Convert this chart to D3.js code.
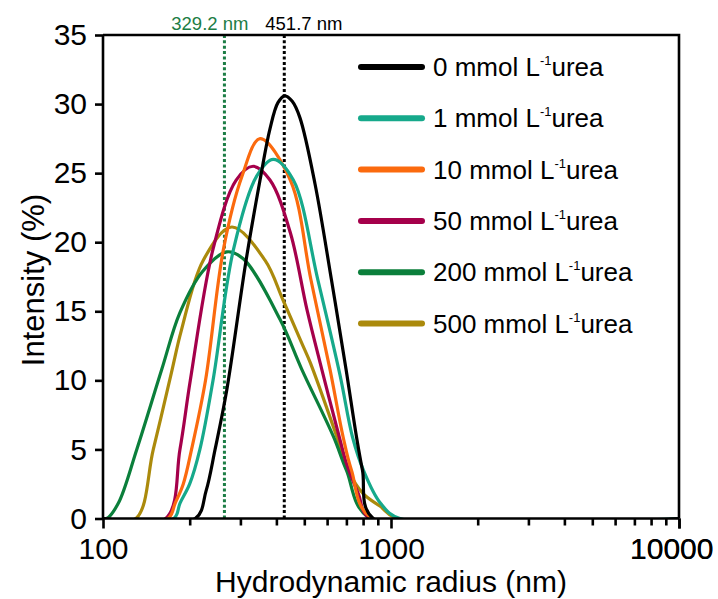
<!DOCTYPE html>
<html lang="en">
<head>
<meta charset="UTF-8">
<title>DLS size distribution</title>
<script src="https://d3js.org/d3.v7.min.js"></script>
<style>
  body { margin: 0; background: #ffffff; }
  svg { display: block; font-family: "Liberation Sans", Arial, sans-serif; }
  .axis path, .axis line { stroke: #000; stroke-width: 2.6; }
  .axis text { font-size: 30px; fill: #000; }
</style>
</head>
<body>
<svg id="chart" width="718" height="599"></svg>
<script>
// --- data: [hydrodynamic radius (nm), intensity (%)] ---
const urea0 = [[100,0],[209,0],[228,2],[245,5],[269,9.3],[314,18.7],[351,24.5],[380,28.2],[405,30.1],[428,30.6],[454,30.2],[483,29.0],[545,24.2],[621,17.3],[698,10.8],[759,5.9],[796,3.5],[868,0],[10000,0]];
const urea1 = [[100,0],[176,0],[185,1.1],[200,2.5],[217,5],[241,10],[284,19.5],[342,24.8],[390,26.0],[458,24.5],[557,17.3],[665,10.4],[735,5.9],[802,3.5],[920,1.1],[1074,0],[10000,0]];
const urea10 = [[100,0],[168,0],[178,1.1],[190,2.5],[203,5],[227,10],[262,19.5],[303,24.7],[351,27.5],[447,24.5],[527,17.3],[614,10.8],[682,5.9],[729,3.5],[858,0],[10000,0]];
const urea50 = [[100,0],[165,0],[185,5],[201,10],[241,19.5],[290,24.5],[332,25.5],[380,24.5],[447,20.7],[511,15.1],[575,10.8],[665,5.7],[700,4.0],[770,1.8],[845,0],[10000,0]];
const urea200 = [[100,0],[103,0],[113,1.1],[131,5],[160,10.8],[185,14.9],[222,17.9],[269,19.3],[307,18.8],[412,14.4],[490,10.8],[632,5.9],[700,3.5],[845,0],[10000,0]];
const urea500 = [[100,0],[130,0],[149.5,5],[173,10.6],[187,13.6],[223,18.7],[280,21.1],[365,18.7],[422,15.8],[490,12.7],[524,11.3],[649,5.9],[710,3.5],[800,1.8],[915,0.9],[1050,0],[10000,0]];

const concentrations = ["0", "1", "10", "50", "200", "500"];
const colors = ["#000000", "#16a98b", "#fb6a0e", "#a5004b", "#0b7f3b", "#ab8a0c"];
const seriesData = [urea0, urea1, urea10, urea50, urea200, urea500];

// marked peak positions (dotted lines)
const markerValues = [264, 426];
const markerLabels = ["329.2 nm", "451.7 nm"];
const markerColors = ["#1c7d45", "#000000"];

const yTicks = [0, 5, 10, 15, 20, 25, 30, 35];
const xLabelTicks = [100, 1000, 10000];

// --- scales ---
const svg = d3.select("#chart");
const x = d3.scaleLog().domain([100, 10000]).range([103, 679]);
const y = d3.scaleLinear().domain([0, 35]).range([518.5, 35]);

const line = d3.line()
  .x(d => x(d[0]))
  .y(d => y(d[1]))
  .curve(d3.curveCatmullRom.alpha(0.5));

// keep the spline from dipping under the baseline
svg.append("clipPath").attr("id", "plot-clip")
  .append("rect")
  .attr("x", x(100)).attr("y", y(35))
  .attr("width", x(10000) - x(100))
  .attr("height", y(0) - y(35));

// dotted marker lines
markerValues.forEach((v, i) => {
  svg.append("line")
    .attr("x1", x(v)).attr("x2", x(v))
    .attr("y1", y(0)).attr("y2", y(35))
    .attr("stroke", markerColors[i])
    .attr("stroke-width", 3)
    .attr("stroke-dasharray", "3,2.4");
});
svg.append("text")
  .attr("x", x(markerValues[0]) + 24).attr("y", 30)
  .attr("text-anchor", "end")
  .attr("font-size", 18.5)
  .attr("fill", markerColors[0])
  .text(markerLabels[0]);
svg.append("text")
  .attr("x", x(markerValues[1]) - 19).attr("y", 30)
  .attr("text-anchor", "start")
  .attr("font-size", 18.5)
  .attr("fill", markerColors[1])
  .text(markerLabels[1]);

// curves, black drawn last so it sits on top
const curves = svg.append("g").attr("clip-path", "url(#plot-clip)");
d3.range(seriesData.length).reverse().forEach(i => {
  curves.append("path")
    .datum(seriesData[i])
    .attr("d", line)
    .attr("fill", "none")
    .attr("stroke", colors[i])
    .attr("stroke-width", 3.2)
    .attr("stroke-linejoin", "round");
});

// --- axes ---
const xAxis = d3.axisBottom(x)
  .tickValues(d3.range(2, 5).flatMap(p => d3.range(1, 10).map(k => k * Math.pow(10, p))).concat([10000]))
  .tickSize(7)
  .tickPadding(12)
  .tickFormat(d => xLabelTicks.includes(d) ? d3.format("d")(d) : "");
const gx = svg.append("g").attr("class", "axis")
  .attr("transform", `translate(0,${y(0)})`)
  .call(xAxis);
gx.select(".domain").attr("d", `M${x(100)},0H${x(10000)}`);
gx.selectAll(".tick line").filter(d => xLabelTicks.includes(d)).attr("y2", 10);
// last label is pulled in so it stays inside the picture
gx.selectAll(".tick text").filter(d => d === 10000)
  .attr("text-anchor", "end").attr("dx", 34);

const yAxis = d3.axisLeft(y)
  .tickValues(yTicks)
  .tickSize(8)
  .tickPadding(8);
const gy = svg.append("g").attr("class", "axis")
  .attr("transform", `translate(${x(100)},0)`)
  .call(yAxis);
gy.select(".domain").attr("d", `M0,${y(0)}V${y(35)}`);

// frame: top and right edges
svg.append("path")
  .attr("d", `M${x(100)},${y(35)}H${x(10000)}V${y(0)}`)
  .attr("fill", "none")
  .attr("stroke", "#000")
  .attr("stroke-width", 2.6);

// axis titles
svg.append("text")
  .attr("x", (x(100) + x(10000)) / 2).attr("y", 592)
  .attr("text-anchor", "middle")
  .attr("font-size", 30)
  .text("Hydrodynamic radius (nm)");
svg.append("text")
  .attr("transform", `translate(44,280) rotate(-90)`)
  .attr("text-anchor", "middle")
  .attr("font-size", 31)
  .text("Intensity (%)");

// --- legend ---
const legend = svg.append("g");
concentrations.forEach((c, i) => {
  const ly = 67 + i * 51.3;
  legend.append("line")
    .attr("x1", 361).attr("x2", 422)
    .attr("y1", ly).attr("y2", ly)
    .attr("stroke", colors[i])
    .attr("stroke-width", 6)
    .attr("stroke-linecap", "round");
  const t = legend.append("text")
    .attr("x", 433).attr("y", ly + 9)
    .attr("font-size", 26);
  t.append("tspan").text(`${c} mmol L`);
  t.append("tspan").attr("font-size", 13).attr("dy", -11).text("-1");
  t.append("tspan").attr("dy", 11).text("urea");
});
</script>
</body>
</html>
